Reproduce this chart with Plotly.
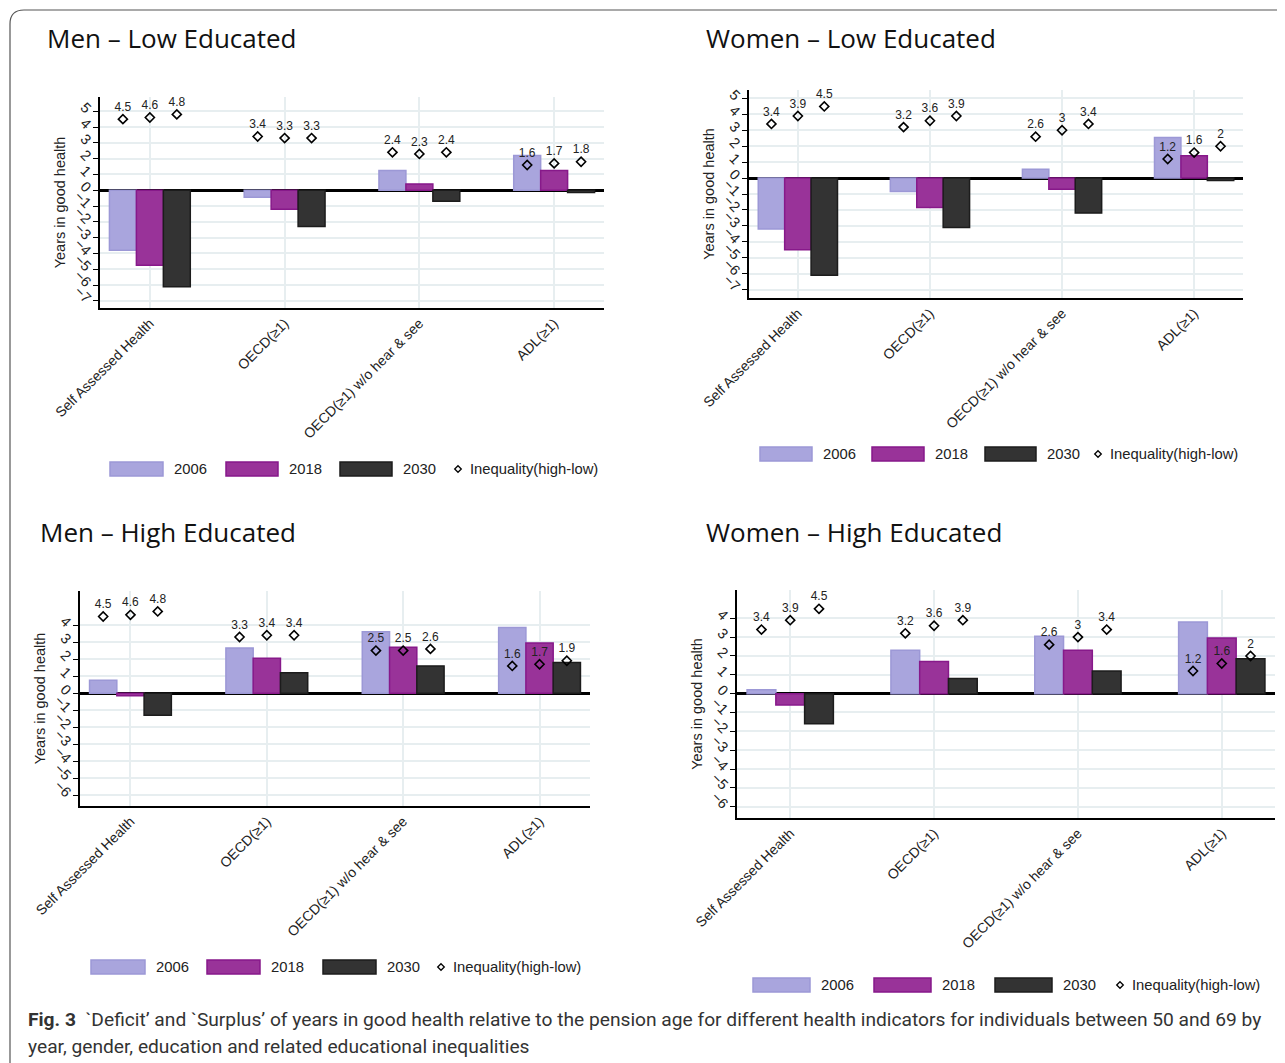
import plotly.graph_objects as go

W, H = 1285, 1063

categories = ["Self Assessed Health", "OECD(≥1)", "OECD(≥1) w/o hear & see", "ADL(≥1)"]
years = ["2006", "2018", "2030"]
panel_titles = ["Men – Low Educated", "Women – Low Educated",
                "Men – High Educated", "Women – High Educated"]
ineq_label = "Inequality(high-low)"

# Years in good health relative to pension age (deficit < 0, surplus > 0)
men_low_2006 = [-3.8, -0.45, 1.25, 2.2]
men_low_2018 = [-4.75, -1.2, 0.4, 1.25]
men_low_2030 = [-6.1, -2.3, -0.7, -0.15]
men_low_ineq_2006 = [4.5, 3.4, 2.4, 1.6]
men_low_ineq_2018 = [4.6, 3.3, 2.3, 1.7]
men_low_ineq_2030 = [4.8, 3.3, 2.4, 1.8]

women_low_2006 = [-3.2, -0.85, 0.55, 2.55]
women_low_2018 = [-4.5, -1.85, -0.7, 1.4]
women_low_2030 = [-6.1, -3.1, -2.2, -0.15]
women_low_ineq_2006 = [3.4, 3.2, 2.6, 1.2]
women_low_ineq_2018 = [3.9, 3.6, 3.0, 1.6]
women_low_ineq_2030 = [4.5, 3.9, 3.4, 2.0]

men_high_2006 = [0.75, 2.65, 3.6, 3.85]
men_high_2018 = [-0.15, 2.05, 2.7, 2.95]
men_high_2030 = [-1.3, 1.2, 1.6, 1.8]
men_high_ineq_2006 = [4.5, 3.3, 2.5, 1.6]
men_high_ineq_2018 = [4.6, 3.4, 2.5, 1.7]
men_high_ineq_2030 = [4.8, 3.4, 2.6, 1.9]

women_high_2006 = [0.2, 2.3, 3.05, 3.8]
women_high_2018 = [-0.6, 1.7, 2.3, 2.95]
women_high_2030 = [-1.6, 0.8, 1.2, 1.85]
women_high_ineq_2006 = [3.4, 3.2, 2.6, 1.2]
women_high_ineq_2018 = [3.9, 3.6, 3.0, 1.6]
women_high_ineq_2030 = [4.5, 3.9, 3.4, 2.0]

yticks_low = [-7, -6, -5, -4, -3, -2, -1, 0, 1, 2, 3, 4, 5]
yticks_high = [-6, -5, -4, -3, -2, -1, 0, 1, 2, 3, 4]

panels = [
    dict(bars=[men_low_2006, men_low_2018, men_low_2030],
         ineq=[men_low_ineq_2006, men_low_ineq_2018, men_low_ineq_2030],
         yticks=yticks_low),
    dict(bars=[women_low_2006, women_low_2018, women_low_2030],
         ineq=[women_low_ineq_2006, women_low_ineq_2018, women_low_ineq_2030],
         yticks=yticks_low),
    dict(bars=[men_high_2006, men_high_2018, men_high_2030],
         ineq=[men_high_ineq_2006, men_high_ineq_2018, men_high_ineq_2030],
         yticks=yticks_high),
    dict(bars=[women_high_2006, women_high_2018, women_high_2030],
         ineq=[women_high_ineq_2006, women_high_ineq_2018, women_high_ineq_2030],
         yticks=yticks_high),
]

# ---- layout / styling (pixel geometry of the page) ----
OX, OY = 8, 8  # page body margin
plot_boxes = [  # left, right, top, bottom in px
    (100, 604, 97, 308),
    (749, 1243, 90, 298),
    (80, 590, 591, 806),
    (737, 1275, 590, 818),
]
y_ranges = [(-7.45, 5.9), (-7.53, 5.53), (-6.63, 6.0), (-6.6, 5.5)]
x_range = (-0.37, 3.37)
title_pos = [(45, 38), (704, 38), (38, 532), (704, 532)]
legend_specs = [
    dict(y=469, patches=[(110, 163), (226, 278), (340, 392)], diamond=458),
    dict(y=454, patches=[(760, 812), (872, 924), (985, 1036)], diamond=1098),
    dict(y=967, patches=[(91, 145), (207, 260), (323, 376)], diamond=441),
    dict(y=985, patches=[(753, 810), (874, 931), (995, 1052)], diamond=1120),
]

fills = ["#a9a5dd", "#993399", "#333333"]
edges = ["#9c98d6", "#87198a", "#1c1c1c"]
offsets = [-0.2, 0.0, 0.2]
grid_col = "#e7eef0"
txt_col = "#222222"


def px(x):
    return (x - OX) / W


def py(y):
    return 1 - (y - OY) / H


fig = go.Figure()
layout = dict(template="none", width=W, height=H, margin=dict(l=0, r=0, t=0, b=0, pad=0),
              paper_bgcolor="white", plot_bgcolor="white", showlegend=False,
              font=dict(family="Liberation Sans, Arial, sans-serif", color=txt_col))
shapes = []
annotations = []

for k, p in enumerate(panels):
    n = "" if k == 0 else str(k + 1)
    xa, ya = "x" + n, "y" + n
    for j in range(3):
        xs = [i + offsets[j] for i in range(len(categories))]
        fig.add_trace(go.Bar(x=xs, y=p["bars"][j], width=0.2, name=years[j],
                             marker=dict(color=fills[j], line=dict(color=edges[j], width=1.5)),
                             xaxis=xa, yaxis=ya))
    for j in range(3):
        xs = [i + offsets[j] for i in range(len(categories))]
        fig.add_trace(go.Scatter(x=xs, y=p["ineq"][j], mode="markers+text", name=ineq_label,
                                 text=[f"{v:g}" for v in p["ineq"][j]],
                                 textposition="top center",
                                 textfont=dict(size=12, color=txt_col),
                                 marker=dict(symbol="diamond-open", size=7, color="black",
                                             line=dict(width=1.6, color="black")),
                                 cliponaxis=False, xaxis=xa, yaxis=ya))
    l, r, t, b = plot_boxes[k]
    layout["xaxis" + n] = dict(domain=[px(l), px(r)], range=list(x_range), anchor=ya,
                               automargin=False,
                               tickmode="array", tickvals=list(range(len(categories))),
                               ticktext=categories, tickangle=-45,
                               tickfont=dict(size=14, color=txt_col),
                               showline=True, linecolor="black", linewidth=1.5,
                               showgrid=True, gridcolor=grid_col, gridwidth=2,
                               zeroline=False, ticks="")
    layout["yaxis" + n] = dict(domain=[py(b), py(t)], range=list(y_ranges[k]), anchor=xa,
                               automargin=False,
                               tickmode="array", tickvals=p["yticks"], tickangle=45,
                               tickfont=dict(size=14.5, color=txt_col),
                               ticks="outside", ticklen=5, tickcolor="black", tickwidth=1,
                               showline=True, linecolor="black", linewidth=1.5,
                               showgrid=True, gridcolor=grid_col, gridwidth=2,
                               zeroline=True, zerolinecolor="black", zerolinewidth=2.5,
                               title=dict(text="Years in good health", font=dict(size=14.5, color=txt_col),
                                          standoff=2))
    tx, ty = title_pos[k]
    annotations.append(dict(text=panel_titles[k], xref="paper", yref="paper", x=px(tx), y=py(ty),
                            xanchor="left", yanchor="middle", showarrow=False,
                            font=dict(family="Open Sans, Noto Sans, sans-serif", size=26, color="#111111")))
    # manual legend
    lg = legend_specs[k]
    yc = lg["y"]
    for j, (x0, x1) in enumerate(lg["patches"]):
        shapes.append(dict(type="rect", xref="paper", yref="paper", x0=px(x0), x1=px(x1),
                           y0=py(yc + 7), y1=py(yc - 7), fillcolor=fills[j],
                           line=dict(color=edges[j], width=1.5)))
        annotations.append(dict(text=years[j], xref="paper", yref="paper", x=px(x1 + 9), y=py(yc),
                                xanchor="left", yanchor="middle", showarrow=False,
                                font=dict(size=14.8, color=txt_col)))
    dx = lg["diamond"]
    d = 3.3
    shapes.append(dict(type="path", xref="paper", yref="paper",
                       path=f"M {px(dx)},{py(yc - d)} L {px(dx + d)},{py(yc)} L {px(dx)},{py(yc + d)} L {px(dx - d)},{py(yc)} Z",
                       line=dict(color="black", width=1.3), fillcolor="white"))
    annotations.append(dict(text=ineq_label, xref="paper", yref="paper", x=px(dx + 10), y=py(yc),
                            xanchor="left", yanchor="middle", showarrow=False,
                            font=dict(size=14.8, color=txt_col)))

# outer frame with rounded top-left corner
shapes.append(dict(type="path", xref="paper", yref="paper",
                   path=f"M {px(10)},{py(1075)} L {px(10)},{py(24)} Q {px(10)},{py(10)} {px(24)},{py(10)} L {px(1295)},{py(10)}",
                   line=dict(color="#555555", width=1.2)))

caption_font = dict(family="Liberation Sans Narrow, Roboto, sans-serif", size=19.2, color="#333333")
annotations.append(dict(text="<b>Fig. 3</b>  `Deficit’ and `Surplus’ of years in good health relative to the pension age for different health indicators for individuals between 50 and 69 by",
                        xref="paper", yref="paper", x=px(26), y=py(1019), xanchor="left", yanchor="middle",
                        showarrow=False, font=caption_font))
annotations.append(dict(text="year, gender, education and related educational inequalities",
                        xref="paper", yref="paper", x=px(26), y=py(1046), xanchor="left", yanchor="middle",
                        showarrow=False, font=caption_font))

layout["shapes"] = shapes
layout["annotations"] = annotations
fig.update_layout(**layout)
fig.write_html("out.html")
